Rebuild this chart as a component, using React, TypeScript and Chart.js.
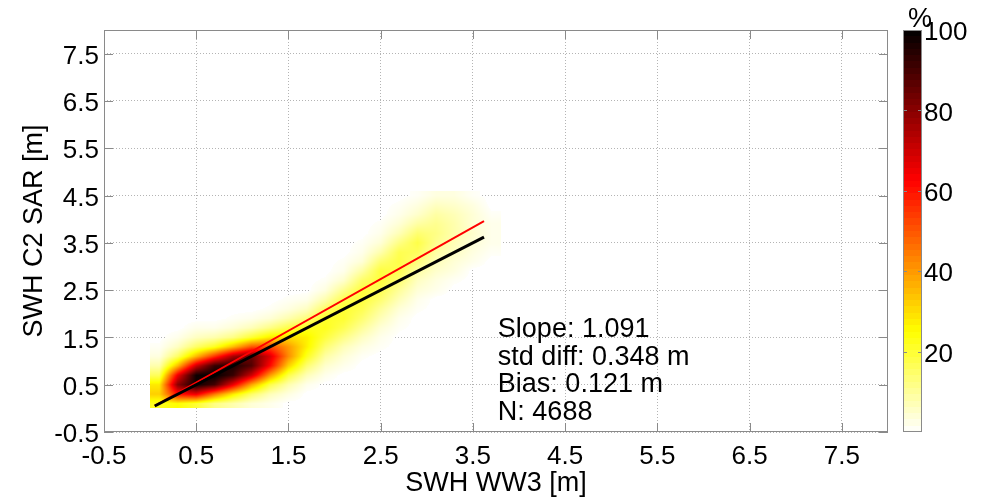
import React, { useEffect, useRef } from "react";
import { Chart, registerables } from "chart.js";

Chart.register(...registerables);

// ---------- data ----------
const axisMin = -0.5;
const axisMax = 8;
const axisTicks = [-0.5, 0.5, 1.5, 2.5, 3.5, 4.5, 5.5, 6.5, 7.5];

const colorbarMin = 0;
const colorbarMax = 100;
const colorbarTicks = [20, 40, 60, 80, 100];

// density bin centres (m)
const densityX = [0.1, 0.3, 0.5, 0.7, 0.9, 1.1, 1.3, 1.5, 1.7, 1.9, 2.1, 2.3, 2.5, 2.7, 2.9, 3.1, 3.3, 3.5, 3.7];
const densityY = [0.1, 0.3, 0.5, 0.7, 0.9, 1.1, 1.3, 1.5, 1.7, 1.9, 2.1, 2.3, 2.5, 2.7, 2.9, 3.1, 3.3, 3.5, 3.7, 3.9, 4.1, 4.3, 4.5];
// density (%) per x column, listed along densityY
const densityCols = [
  [22, 32, 28, 16, 8, 3, 1, 0, 0, 0, 0, 0, 0, 0, 0, 0, 0, 0, 0, 0, 0, 0, 0],
  [25, 60, 80, 65, 35, 15, 6, 2, 0, 0, 0, 0, 0, 0, 0, 0, 0, 0, 0, 0, 0, 0, 0],
  [20, 65, 98, 98, 70, 35, 15, 6, 2, 0, 0, 0, 0, 0, 0, 0, 0, 0, 0, 0, 0, 0, 0],
  [12, 45, 90, 100, 92, 55, 22, 8, 2, 0, 0, 0, 0, 0, 0, 0, 0, 0, 0, 0, 0, 0, 0],
  [8, 28, 65, 92, 96, 75, 35, 12, 4, 1, 0, 0, 0, 0, 0, 0, 0, 0, 0, 0, 0, 0, 0],
  [4, 15, 38, 70, 88, 85, 50, 20, 7, 2, 0, 0, 0, 0, 0, 0, 0, 0, 0, 0, 0, 0, 0],
  [2, 7, 18, 40, 62, 68, 52, 28, 12, 4, 1, 0, 0, 0, 0, 0, 0, 0, 0, 0, 0, 0, 0],
  [0, 3, 8, 18, 32, 42, 40, 30, 18, 8, 3, 1, 0, 0, 0, 0, 0, 0, 0, 0, 0, 0, 0],
  [0, 0, 2, 7, 14, 22, 27, 27, 22, 13, 6, 2, 0, 0, 0, 0, 0, 0, 0, 0, 0, 0, 0],
  [0, 0, 0, 2, 5, 9, 14, 19, 22, 21, 15, 8, 3, 1, 0, 0, 0, 0, 0, 0, 0, 0, 0],
  [0, 0, 0, 0, 2, 4, 7, 12, 17, 20, 20, 17, 11, 5, 2, 1, 0, 0, 0, 0, 0, 0, 0],
  [0, 0, 0, 0, 0, 1, 3, 6, 10, 14, 17, 19, 19, 15, 9, 4, 2, 1, 0, 0, 0, 0, 0],
  [0, 0, 0, 0, 0, 0, 1, 2, 4, 7, 10, 14, 17, 19, 19, 14, 8, 4, 2, 1, 0, 0, 0],
  [0, 0, 0, 0, 0, 0, 0, 0, 1, 2, 4, 7, 10, 14, 17, 18, 17, 12, 7, 4, 2, 1, 0],
  [0, 0, 0, 0, 0, 0, 0, 0, 0, 0, 1, 2, 4, 6, 9, 13, 16, 18, 14, 9, 5, 3, 1],
  [0, 0, 0, 0, 0, 0, 0, 0, 0, 0, 0, 0, 2, 3, 5, 7, 9, 11, 12, 11, 9, 6, 3],
  [0, 0, 0, 0, 0, 0, 0, 0, 0, 0, 0, 0, 0, 1, 3, 4, 6, 7, 8, 8, 7, 5, 3],
  [0, 0, 0, 0, 0, 0, 0, 0, 0, 0, 0, 0, 0, 0, 0, 2, 3, 4, 5, 4, 4, 3, 1],
  [0, 0, 0, 0, 0, 0, 0, 0, 0, 0, 0, 0, 0, 0, 0, 0, 1, 2, 2, 2, 1, 0, 0],
];

const fitX = [0.05, 3.62];
const fitY = [0.055, 3.96];
const oneToOneX = [0.05, 3.62];
const oneToOneY = [0.05, 3.62];

const statsLines = ["Slope: 1.091", "std diff: 0.348 m", "Bias: 0.121 m", "N: 4688"];
const xTitle = "SWH WW3 [m]";
const yTitle = "SWH C2 SAR [m]";
const colorbarUnit = "%";

// ---------- helpers ----------
const FONT = "'Liberation Sans', Arial, Helvetica, sans-serif";
const clamp = (v: number, a: number, b: number) => Math.max(a, Math.min(b, v));

// reversed MATLAB "hot": 0 -> white, 1 -> black
function hotR(v: number): [number, number, number] {
  const t = 1 - clamp(v, 0, 1);
  const r = clamp(t / 0.375, 0, 1);
  const g = clamp((t - 0.375) / 0.375, 0, 1);
  const b = clamp((t - 0.75) / 0.25, 0, 1);
  return [Math.round(r * 255), Math.round(g * 255), Math.round(b * 255)];
}

const zeroPad = (s: any) => {
  s.paddingTop = 0;
  s.paddingBottom = 0;
  s.paddingLeft = 0;
  s.paddingRight = 0;
};

const densityPlugin = {
  id: "densityPlugin",
  beforeDatasetsDraw(chart: any) {
    const { ctx, scales } = chart;
    const xs = scales.x;
    const ys = scales.y;
    const dx = densityX[1] - densityX[0];
    const dy = densityY[1] - densityY[0];
    const nx = densityX.length;
    const ny = densityY.length;
    const px0 = Math.round(xs.getPixelForValue(densityX[0] - dx / 2));
    const px1 = Math.round(xs.getPixelForValue(densityX[nx - 1] + dx / 2));
    const py0 = Math.round(ys.getPixelForValue(densityY[ny - 1] + dy / 2));
    const py1 = Math.round(ys.getPixelForValue(densityY[0] - dy / 2));
    const w = px1 - px0;
    const h = py1 - py0;
    if (w <= 0 || h <= 0) return;
    const off = document.createElement("canvas");
    off.width = w;
    off.height = h;
    const octx = off.getContext("2d")!;
    const img = octx.createImageData(w, h);
    const d = img.data;
    for (let j = 0; j < h; j++) {
      const vy = ys.getValueForPixel(py0 + j + 0.5);
      const gy = clamp((vy - densityY[0]) / dy, 0, ny - 1);
      const j0 = Math.floor(gy);
      const j1 = Math.min(ny - 1, j0 + 1);
      const fy = gy - j0;
      for (let i = 0; i < w; i++) {
        const vx = xs.getValueForPixel(px0 + i + 0.5);
        const gx = clamp((vx - densityX[0]) / dx, 0, nx - 1);
        const i0 = Math.floor(gx);
        const i1 = Math.min(nx - 1, i0 + 1);
        const fx = gx - i0;
        const v =
          (densityCols[i0][j0] * (1 - fx) + densityCols[i1][j0] * fx) * (1 - fy) +
          (densityCols[i0][j1] * (1 - fx) + densityCols[i1][j1] * fx) * fy;
        if (v < 0.6) continue;
        const [r, g, b] = hotR((v - colorbarMin) / (colorbarMax - colorbarMin));
        const k = (j * w + i) * 4;
        d[k] = r;
        d[k + 1] = g;
        d[k + 2] = b;
        d[k + 3] = 255;
      }
    }
    octx.putImageData(img, 0, 0);
    ctx.save();
    ctx.drawImage(off, px0, py0);
    ctx.restore();
  },
  afterDatasetsDraw(chart: any) {
    const { ctx, chartArea, scales } = chart;
    const xs = scales.x;
    const ys = scales.y;
    const { left, right, top, bottom } = chartArea;
    ctx.save();
    // box
    ctx.strokeStyle = "#8a8a8a";
    ctx.lineWidth = 1;
    ctx.strokeRect(Math.round(left) + 0.5, Math.round(top) + 0.5, Math.round(right - left) - 1, Math.round(bottom - top) - 1);
    // inward ticks
    const tl = 9;
    ctx.beginPath();
    axisTicks.forEach((t) => {
      const px = Math.round(xs.getPixelForValue(t)) + 0.5;
      ctx.moveTo(px, bottom);
      ctx.lineTo(px, bottom - tl);
      ctx.moveTo(px, top);
      ctx.lineTo(px, top + tl);
      const py = Math.round(ys.getPixelForValue(t)) + 0.5;
      ctx.moveTo(left, py);
      ctx.lineTo(left + tl, py);
      ctx.moveTo(right, py);
      ctx.lineTo(right - tl, py);
    });
    ctx.stroke();
    // stats text
    ctx.fillStyle = "#000";
    ctx.font = `27px ${FONT}`;
    ctx.textAlign = "left";
    ctx.textBaseline = "alphabetic";
    const tx = xs.getPixelForValue(3.77);
    const ty = ys.getPixelForValue(1.51);
    statsLines.forEach((s, i) => ctx.fillText(s, tx, ty + i * 27.7));
    ctx.restore();
  },
  afterDraw(chart: any) {
    const { ctx, chartArea, scales } = chart;
    const cb = scales.cb;
    const x0 = Math.round(chartArea.right) + 15;
    const bw = 19;
    const top = Math.round(cb.getPixelForValue(colorbarMax));
    const bot = Math.round(cb.getPixelForValue(colorbarMin));
    ctx.save();
    for (let py = top; py < bot; py++) {
      const v = cb.getValueForPixel(py + 0.5);
      const q = Math.min(63, Math.floor(((v - colorbarMin) / (colorbarMax - colorbarMin)) * 64));
      const [r, g, b] = hotR((q + 0.5) / 64);
      ctx.fillStyle = `rgb(${r},${g},${b})`;
      ctx.fillRect(x0, py, bw, 1);
    }
    ctx.strokeStyle = "#8a8a8a";
    ctx.lineWidth = 1;
    ctx.strokeRect(x0 + 0.5, top + 0.5, bw - 1, bot - top - 1);
    ctx.beginPath();
    colorbarTicks.forEach((t) => {
      if (t >= colorbarMax) return;
      const py = Math.round(cb.getPixelForValue(t)) + 0.5;
      ctx.moveTo(x0, py);
      ctx.lineTo(x0 + 4, py);
      ctx.moveTo(x0 + bw, py);
      ctx.lineTo(x0 + bw - 4, py);
    });
    ctx.stroke();
    ctx.fillStyle = "#000";
    ctx.font = `27px ${FONT}`;
    ctx.textAlign = "center";
    ctx.textBaseline = "alphabetic";
    ctx.fillText(colorbarUnit, x0 + bw - 2, 27);
    ctx.restore();
  },
};

export default function App() {
  const ref = useRef<HTMLCanvasElement | null>(null);
  useEffect(() => {
    if (!ref.current) return;
    const tickFont = { family: FONT, size: 26 };
    const titleFont = { family: FONT, size: 27 };
    const chart = new Chart(ref.current, {
      type: "scatter",
      data: {
        datasets: [
          {
            label: "1:1",
            data: oneToOneX.map((x, i) => ({ x, y: oneToOneY[i] })),
            showLine: true,
            borderColor: "#000000",
            borderWidth: 3,
            pointRadius: 0,
            xAxisID: "x",
            yAxisID: "y",
          },
          {
            label: "fit",
            data: fitX.map((x, i) => ({ x, y: fitY[i] })),
            showLine: true,
            borderColor: "#ff0000",
            borderWidth: 2,
            pointRadius: 0,
            xAxisID: "x",
            yAxisID: "y",
          },
        ],
      },
      options: {
        responsive: true,
        maintainAspectRatio: false,
        animation: false,
        events: [],
        layout: { padding: { top: 30, left: 0, right: 0, bottom: 0 } },
        plugins: { legend: { display: false }, tooltip: { enabled: false } },
        scales: {
          x: {
            type: "linear",
            position: "bottom",
            min: axisMin,
            max: axisMax,
            afterBuildTicks: (s: any) => {
              s.ticks = axisTicks.map((v) => ({ value: v }));
            },
            afterFit: (s: any) => {
              s.height = 72;
              zeroPad(s);
            },
            grid: { color: "#b4b4b4", lineWidth: 1, drawTicks: false },
            border: { display: false, dash: [1, 2] },
            ticks: {
              autoSkip: false,
              maxRotation: 0,
              padding: 9,
              color: "#000",
              font: tickFont,
              callback: (v: any) => Number(v).toFixed(1),
            },
            title: { display: true, text: xTitle, color: "#000", font: titleFont, padding: { top: 0, bottom: 4 } },
          },
          y: {
            type: "linear",
            position: "left",
            min: axisMin,
            max: axisMax,
            afterBuildTicks: (s: any) => {
              s.ticks = axisTicks.map((v) => ({ value: v }));
            },
            afterFit: (s: any) => {
              s.width = 104;
              zeroPad(s);
            },
            grid: { color: "#b4b4b4", lineWidth: 1, drawTicks: false },
            border: { display: false, dash: [1, 2] },
            ticks: {
              autoSkip: false,
              padding: 5,
              labelOffset: 3,
              color: "#000",
              font: tickFont,
              callback: (v: any) => Number(v).toFixed(1),
            },
            title: { display: true, text: yTitle, color: "#000", font: titleFont, padding: { top: 18, bottom: 0 } },
          },
          cb: {
            type: "linear",
            position: "right",
            min: colorbarMin,
            max: colorbarMax,
            afterBuildTicks: (s: any) => {
              s.ticks = colorbarTicks.map((v) => ({ value: v }));
            },
            afterFit: (s: any) => {
              s.width = 98;
              zeroPad(s);
            },
            grid: { display: false, drawTicks: false },
            border: { display: false },
            ticks: {
              autoSkip: false,
              padding: 36,
              labelOffset: 3,
              color: "#000",
              font: tickFont,
              callback: (v: any) => String(v),
            },
          },
        },
      } as any,
      plugins: [densityPlugin],
    });
    return () => chart.destroy();
  }, []);
  return (
    <div style={{ position: "fixed", left: 0, top: 0, width: 986, height: 504, background: "#fff" }}>
      <canvas ref={ref} />
    </div>
  );
}
